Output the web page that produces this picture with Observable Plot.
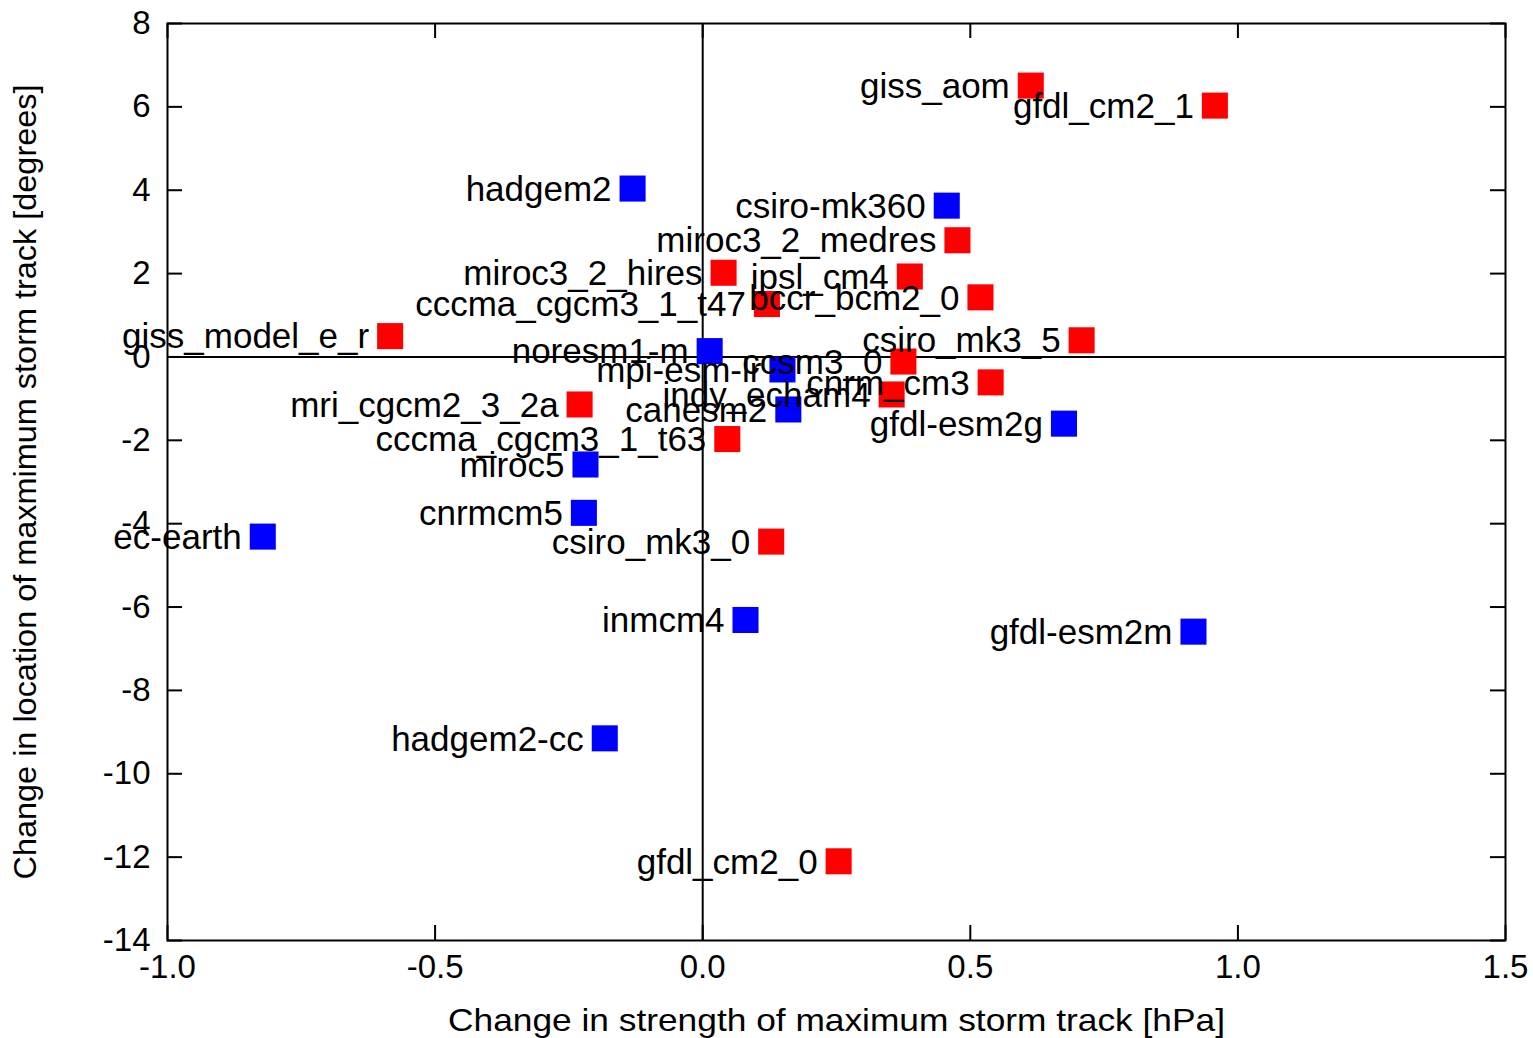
<!DOCTYPE html>
<html>
<head>
<meta charset="utf-8">
<script src="https://cdn.jsdelivr.net/npm/d3@7"></script>
<script src="https://cdn.jsdelivr.net/npm/@observablehq/plot@0.6"></script>
<style>
  body { margin: 0; background: #fff; }
  svg { display: block; }
</style>
</head>
<body>
<div id="chart"></div>
<script>
// Storm-track response per climate model: change in strength (hPa) vs. shift in location (degrees)
const models = [
  "giss_aom", "gfdl_cm2_1", "hadgem2", "csiro-mk360", "miroc3_2_medres",
  "miroc3_2_hires", "ipsl_cm4", "bccr_bcm2_0", "cccma_cgcm3_1_t47", "giss_model_e_r",
  "csiro_mk3_5", "noresm1-m", "ccsm3_0", "mpi-esm-lr", "cnrm_cm3",
  "indy_echam4", "canesm2", "mri_cgcm2_3_2a", "gfdl-esm2g", "cccma_cgcm3_1_t63",
  "miroc5", "cnrmcm5", "ec-earth", "csiro_mk3_0", "inmcm4",
  "gfdl-esm2m", "hadgem2-cc", "gfdl_cm2_0"
];
const strength = [
  0.613, 0.957, -0.131, 0.456, 0.476,
  0.039, 0.387, 0.519, 0.120, -0.584,
  0.708, 0.013, 0.375, 0.149, 0.538,
  0.353, 0.160, -0.230, 0.675, 0.046,
  -0.219, -0.222, -0.822, 0.128, 0.080,
  0.917, -0.183, 0.254
];
const shift = [
  6.51, 6.03, 4.04, 3.63, 2.80,
  2.02, 1.93, 1.43, 1.27, 0.50,
  0.40, 0.14, -0.11, -0.30, -0.61,
  -0.90, -1.26, -1.14, -1.60, -1.97,
  -2.58, -3.74, -4.31, -4.43, -6.31,
  -6.59, -9.15, -12.10
];
const ensemble = [
  "CMIP3", "CMIP3", "CMIP5", "CMIP5", "CMIP3",
  "CMIP3", "CMIP3", "CMIP3", "CMIP3", "CMIP3",
  "CMIP3", "CMIP5", "CMIP3", "CMIP5", "CMIP3",
  "CMIP3", "CMIP5", "CMIP3", "CMIP5", "CMIP3",
  "CMIP5", "CMIP5", "CMIP5", "CMIP3", "CMIP5",
  "CMIP5", "CMIP5", "CMIP3"
];
const xTicks = [-1.0, -0.5, 0.0, 0.5, 1.0, 1.5];
const yTicks = [8, 6, 4, 2, 0, -2, -4, -6, -8, -10, -12, -14];
const xTitle = "Change in strength of maximum storm track [hPa]";
const yTitle = "Change in location of maxmimum storm track [degrees]";

const rows = models.map((m, i) => ({model: m, strength: strength[i], shift: shift[i], ensemble: ensemble[i]}));

const W = 1533, H = 1038;
const mL = 167, mR = 28, mT = 23, mB = 98;
const plotW = W - mL - mR, plotH = H - mT - mB;
const tickLen = 15;

const chart = Plot.plot({
  width: W,
  height: H,
  marginLeft: mL,
  marginRight: mR,
  marginTop: mT,
  marginBottom: mB,
  style: {fontFamily: "'Liberation Sans', Arial, Helvetica, sans-serif", color: "#000", background: "#fff"},
  x: {domain: [-1, 1.5], label: null},
  y: {domain: [-14, 8], label: null},
  color: {domain: ["CMIP3", "CMIP5"], range: ["#ff0000", "#0000ff"]},
  marks: [
    Plot.ruleX([0], {stroke: "#000", strokeWidth: 2}),
    Plot.ruleY([0], {stroke: "#000", strokeWidth: 2}),
    // inward ticks on all four sides
    Plot.tickX(xTicks, {x: d => d, insetTop: plotH - tickLen, stroke: "#000", strokeWidth: 2}),
    Plot.tickX(xTicks, {x: d => d, insetBottom: plotH - tickLen, stroke: "#000", strokeWidth: 2}),
    Plot.tickY(yTicks, {y: d => d, insetRight: plotW - tickLen, stroke: "#000", strokeWidth: 2}),
    Plot.tickY(yTicks, {y: d => d, insetLeft: plotW - tickLen, stroke: "#000", strokeWidth: 2}),
    Plot.axisX(xTicks, {anchor: "bottom", tickSize: 0, tickPadding: 14, fontSize: 33, tickFormat: d => d.toFixed(1), label: null}),
    Plot.axisY(yTicks, {anchor: "left", tickSize: 0, tickPadding: 17, fontSize: 33, tickFormat: d => String(d), label: null}),
    Plot.frame({stroke: "#000", strokeWidth: 2}),
    Plot.dot(rows, {x: "strength", y: "shift", fill: "ensemble", symbol: "square", r: 14.7}),
    Plot.text(rows, {x: "strength", y: "shift", text: "model", textAnchor: "end", lineAnchor: "middle", dx: -21, dy: 1, fontSize: 35, fill: "#000"}),
    Plot.text([xTitle], {text: d => d, frameAnchor: "bottom", textAnchor: "middle", lineAnchor: "middle", dy: 80, fontSize: 32, fill: "#000"}),
    Plot.text([yTitle], {text: d => d, frameAnchor: "left", textAnchor: "middle", rotate: -90, lineAnchor: "middle", dx: -142, fontSize: 32, fill: "#000"})
  ]
});

// fit the axis titles to their drawn lengths
d3.select(chart).selectAll("text").each(function () {
  const t = this.textContent;
  if (t === xTitle) d3.select(this).attr("textLength", 777).attr("lengthAdjust", "spacingAndGlyphs");
  if (t === yTitle) d3.select(this).attr("textLength", 795).attr("lengthAdjust", "spacingAndGlyphs");
});

document.getElementById("chart").append(chart);
</script>
</body>
</html>
